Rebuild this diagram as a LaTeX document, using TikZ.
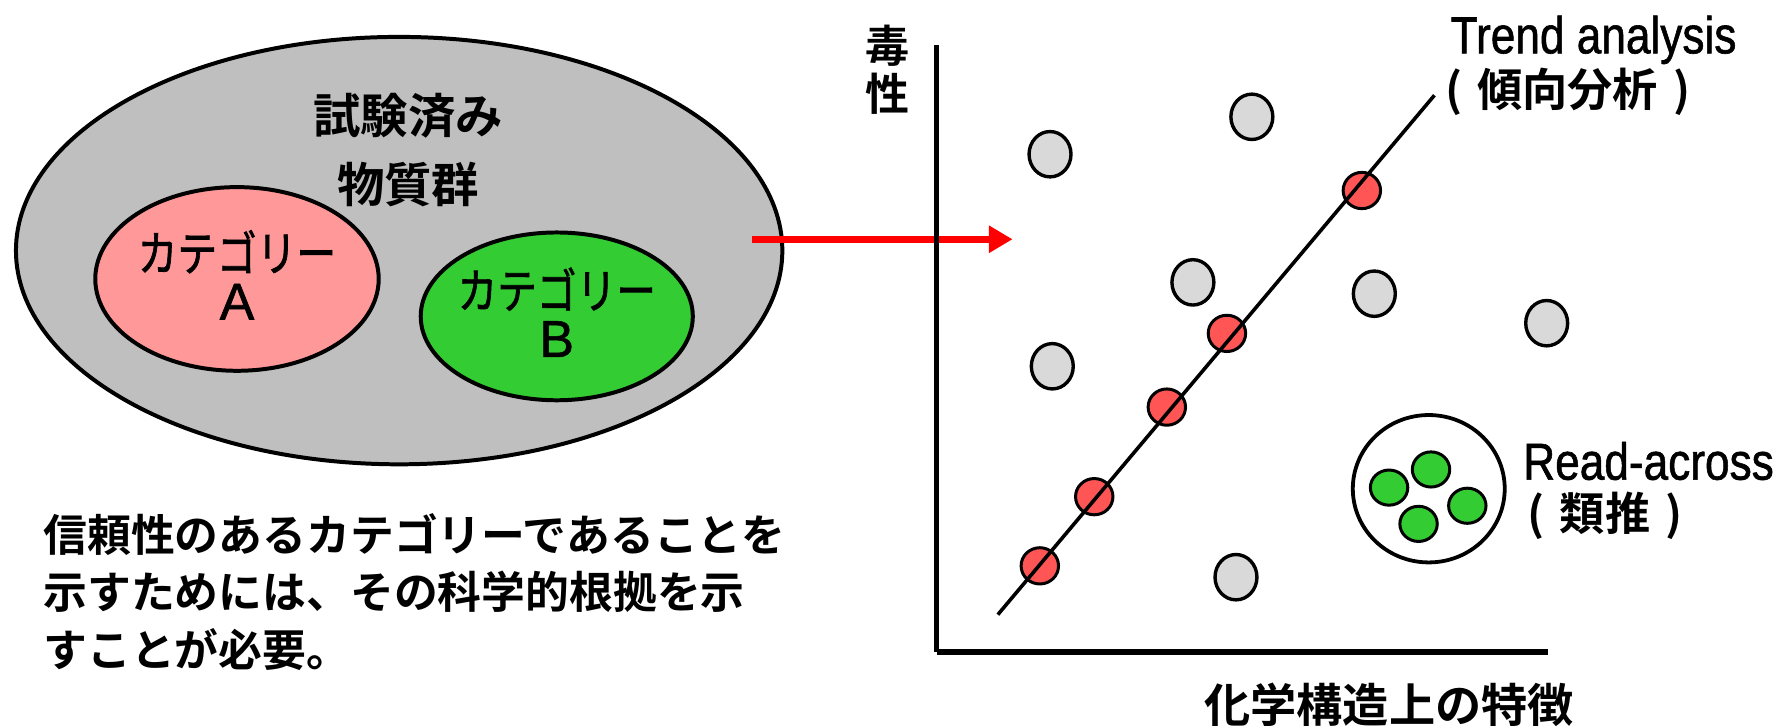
\documentclass[tikz,border=0pt]{standalone}
\usepackage{graphicx}
\usepackage{fontspec}
\usetikzlibrary{shapes.geometric,arrows.meta}
\setmainfont{Noto Sans CJK JP}
\newfontfamily\jp[FakeBold=1.6]{Noto Sans CJK JP}
\newfontfamily\jpb{Noto Sans CJK JP Bold}
\newfontfamily\lat[FakeBold=1.2]{Liberation Sans}
\newcommand{\cnd}[2]{\scalebox{#1}[1]{#2}}
\definecolor{biggray}{HTML}{BFBFBF}
\definecolor{catpink}{HTML}{FF9999}
\definecolor{catgreen}{HTML}{33CC33}
\definecolor{reddot}{HTML}{FF5555}
\definecolor{graydot}{HTML}{D9D9D9}
\begin{document}
\begin{tikzpicture}[x=0.02cm,y=-0.02cm,
  ell/.style={ellipse,draw=black,line width=2pt,inner sep=0pt},
  gdot/.style={ellipse,draw=black,line width=1.7pt,fill=graydot,minimum width=0.74cm,minimum height=0.80cm,inner sep=0pt},
  rdot/.style={ellipse,draw=black,line width=1.5pt,fill=reddot,minimum width=0.66cm,minimum height=0.64cm,inner sep=0pt},
  grdot/.style={ellipse,draw=black,line width=1.5pt,fill=catgreen,minimum width=0.66cm,minimum height=0.62cm,inner sep=0pt},
  txt/.style={inner sep=0pt,text=black},
]
\useasboundingbox (0,0) rectangle (1568,640);
% left group
\node[ell,fill=biggray,minimum width=13.52cm,minimum height=7.54cm] (big) at (352,221) {};
\node[txt,font=\jpb\fontsize{23.8pt}{28pt}\selectfont] (t1) at (360,102) {試験済み};
\node[txt,font=\jpb\fontsize{23.8pt}{28pt}\selectfont] (t2) at (360,163) {物質群};
\node[ell,fill=catpink,minimum width=5cm,minimum height=3.24cm] (catA) at (209,246) {};
\node[txt,font=\jp\fontsize{24pt}{27pt}\selectfont] (catAt) at (209,222) {\cnd{0.83}{カテゴリー}};
\node[txt,font=\lat\fontsize{26pt}{29pt}\selectfont] (catAl) at (209,266) {A};
\node[ell,fill=catgreen,minimum width=4.8cm,minimum height=2.96cm] (catB) at (491,279) {};
\node[txt,font=\jp\fontsize{24pt}{27pt}\selectfont] (catBt) at (491,255) {\cnd{0.83}{カテゴリー}};
\node[txt,font=\lat\fontsize{26pt}{29pt}\selectfont] (catBl) at (491,299) {B};
\node[txt,anchor=west,align=left,font=\jpb\fontsize{22pt}{28.9pt}\selectfont] (note) at (38,522)
  {信頼性のあるカテゴリーであることを\\示すためには、その科学的根拠を示\\すことが必要。};
% arrow
\coordinate (arrS) at (663,211);
\coordinate (arrE) at (893,211);
\draw[red,line width=3.3pt,-{Triangle[length=0.42cm,width=0.46cm]}] (arrS) -- (arrE);
% axes
\coordinate (yTop) at (826,40);
\coordinate (origin) at (826,575);
\coordinate (xEnd) at (1365,575);
\draw[line width=2.4pt] (yTop) -- (origin);
\draw[line width=2.9pt] (origin) -- (xEnd);
\node[txt,font=\jpb\fontsize{22.1pt}{26pt}\selectfont] (yl1) at (783,40) {毒};
\node[txt,font=\jpb\fontsize{22.1pt}{26pt}\selectfont] (yl2) at (783,83) {性};
\node[txt,font=\jpb\fontsize{23.2pt}{26pt}\selectfont] (xl) at (1225,622) {化学構造上の特徴};
% gray dots
\node[gdot] (g1) at (926,136) {};
\node[gdot] (g2) at (1104,103) {};
\node[gdot] (g3) at (1052,249) {};
\node[gdot] (g4) at (1212,259) {};
\node[gdot] (g5) at (1364,285) {};
\node[gdot] (g6) at (928,323) {};
\node[gdot] (g7) at (1090,509) {};
% red dots
\node[rdot] (r1) at (1201,168) {};
\node[rdot] (r2) at (1082,294) {};
\node[rdot] (r3) at (1029,359) {};
\node[rdot] (r4) at (965,438) {};
\node[rdot] (r5) at (917,499) {};
% trend line
\coordinate (tlS) at (880,542);
\coordinate (tlE) at (1265,84);
\draw[line width=1.8pt] (tlS) -- (tlE);
\node[txt,anchor=base west,font=\lat\fontsize{26.1pt}{30pt}\selectfont] (trend) at (1279,47) {\cnd{0.85}{Trend analysis}};
\node[txt,anchor=west,font=\jpb\fontsize{22.7pt}{26pt}\selectfont] (trendj) at (1274,81) {(\,\,傾向分析\,\,)};
% read-across
\node[ell,line width=1.9pt,fill=white,minimum width=2.68cm,minimum height=2.6cm] (ra) at (1260,431) {};
\node[grdot] (c1) at (1262,414) {};
\node[grdot] (c2) at (1225,430) {};
\node[grdot] (c3) at (1294,446) {};
\node[grdot] (c4) at (1251,462) {};
\node[txt,anchor=base west,font=\lat\fontsize{26.1pt}{30pt}\selectfont] (rat) at (1343,423) {\cnd{0.85}{Read-across}};
\node[txt,anchor=west,font=\jpb\fontsize{22.7pt}{26pt}\selectfont] (raj) at (1347,455) {(\,\,類推\,\,)};
\end{tikzpicture}
\end{document}
